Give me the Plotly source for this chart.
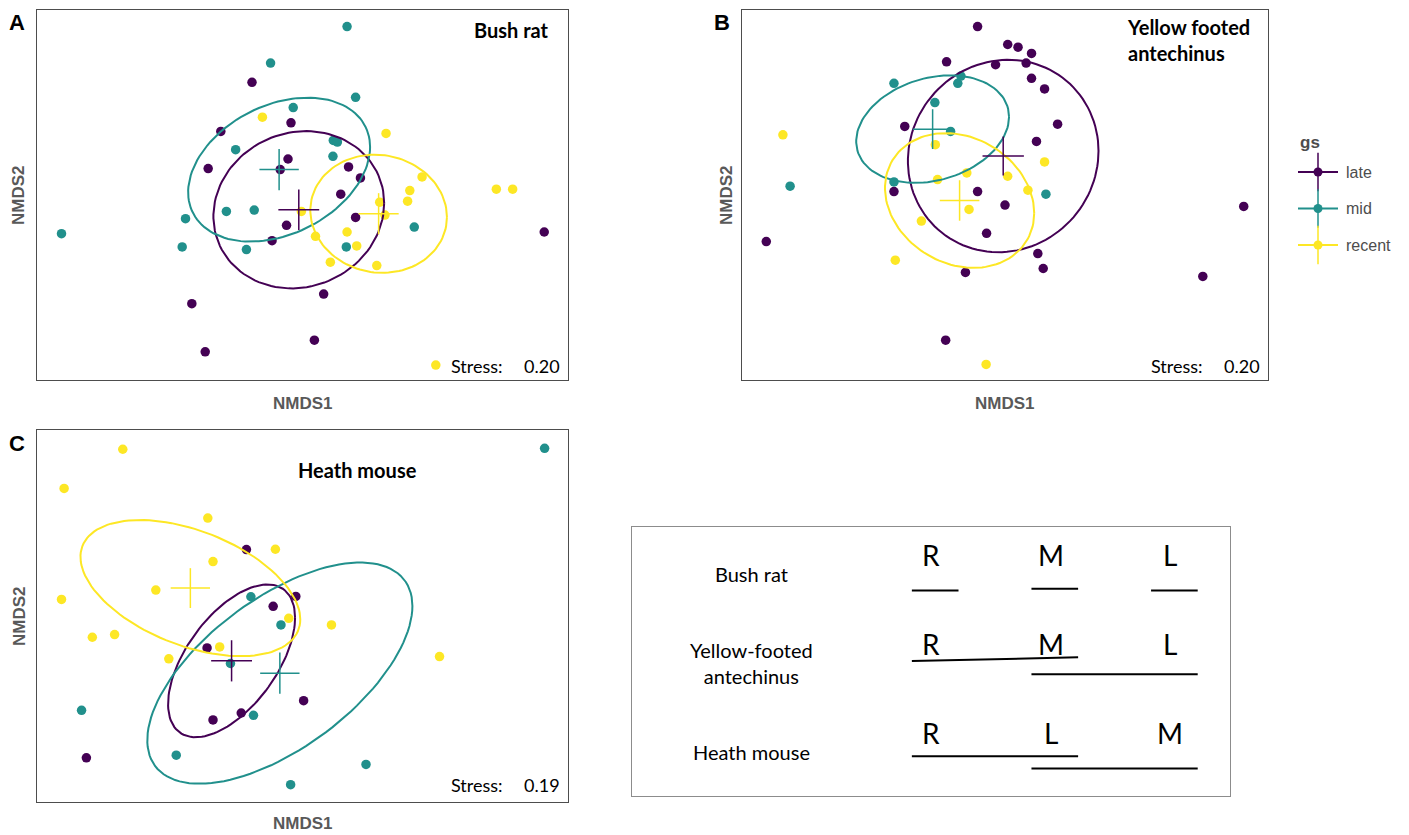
import numpy as np
import plotly.graph_objects as go

# ---------------------------------------------------------------
# NMDS site scores (NMDS1, NMDS2) per species and growth stage
# ---------------------------------------------------------------
groups = ["late", "mid", "recent"]
group_colors = ["#440154", "#21908C", "#FDE725"]

# Bush rat
rat_late_x = [-0.136, -0.031, -0.220, -0.254, -0.039, -0.060, 0.124, 0.156, 0.103, 0.143,
              -0.043, -0.082, 0.651, 0.057, -0.298, 0.032, -0.262]
rat_late_y = [0.375, 0.253, 0.227, 0.115, 0.144, 0.112, 0.120, 0.087, 0.038, -0.032,
              -0.056, -0.102, -0.076, -0.263, -0.292, -0.402, -0.437]
rat_mid_x = [0.120, -0.086, 0.143, -0.025, -0.180, 0.083, 0.094, 0.082, -0.205, -0.130,
             -0.315, -0.649, -0.324, -0.151, 0.118, 0.301]
rat_mid_y = [0.543, 0.433, 0.330, 0.299, 0.172, 0.200, 0.195, 0.152, -0.014, -0.010,
             -0.036, -0.081, -0.121, -0.129, -0.121, -0.061]
rat_recent_x = [-0.108, 0.225, 0.322, 0.289, 0.283, 0.208, 0.222, -0.003, 0.522, 0.566,
                0.120, 0.035, 0.146, 0.075, 0.200, 0.359]
rat_recent_y = [0.270, 0.221, 0.090, 0.049, 0.017, 0.014, -0.025, -0.014, 0.053, 0.053,
                -0.076, -0.089, -0.118, -0.167, -0.177, -0.477]

# Yellow footed antechinus
ant_late_x = [-0.061, 0.006, 0.029, 0.059, -0.130, -0.021, 0.047, 0.059, 0.088, 0.117,
              -0.223, 0.070, -0.247, -0.061, 0.000, -0.041, -0.531, 0.531, 0.073, 0.085,
              -0.088, 0.440, -0.132]
ant_late_y = [0.508, 0.454, 0.446, 0.427, 0.402, 0.393, 0.398, 0.352, 0.320, 0.214,
              0.207, 0.162, 0.011, 0.011, -0.030, -0.115, -0.140, -0.034, -0.176, -0.221,
              -0.233, -0.245, -0.437]
ant_mid_x = [-0.247, -0.105, -0.098, -0.156, -0.121, -0.247, -0.478, 0.091]
ant_mid_y = [0.337, 0.337, 0.359, 0.279, 0.192, 0.040, 0.027, 0.003]
ant_recent_x = [-0.494, -0.155, 0.088, -0.085, -0.150, 0.006, 0.051, -0.080, -0.186, -0.244, -0.042]
ant_recent_y = [0.182, 0.152, 0.100, 0.067, 0.047, 0.057, 0.015, -0.043, -0.078, -0.196, -0.510]

# Heath mouse
hm_late_x = [-0.151, -0.018, -0.079, -0.257, 0.003, -0.165, -0.241, -0.582]
hm_late_y = [0.200, 0.059, 0.029, -0.096, -0.255, -0.292, -0.313, -0.427]
hm_mid_x = [0.652, -0.139, -0.058, -0.194, -0.132, -0.595, -0.340, 0.171, -0.032]
hm_mid_y = [0.505, 0.058, -0.027, -0.143, -0.299, -0.284, -0.419, -0.447, -0.508]
hm_recent_x = [-0.484, -0.642, -0.255, -0.073, -0.241, -0.395, -0.649, -0.037, 0.078,
               -0.566, -0.506, -0.223, -0.360, 0.369]
hm_recent_y = [0.502, 0.384, 0.295, 0.201, 0.164, 0.078, 0.050, -0.007, -0.027,
               -0.064, -0.056, -0.093, -0.129, -0.122]

# Group centroids and their spread (late, mid, recent)
rat_cent_x = [-0.010, -0.063, 0.205]
rat_cent_y = [-0.009, 0.112, -0.021]
rat_err_x = [0.055, 0.053, 0.054]
rat_err_y = [0.061, 0.062, 0.062]
ant_cent_x = [-0.004, -0.161, -0.101]
ant_cent_y = [0.118, 0.199, -0.016]
ant_err_x = [0.046, 0.044, 0.044]
ant_err_y = [0.059, 0.060, 0.061]
hm_cent_x = [-0.191, -0.061, -0.302]
hm_cent_y = [-0.135, -0.172, 0.084]
hm_err_x = [0.055, 0.053, 0.053]
hm_err_y = [0.062, 0.062, 0.060]

# Dispersion ellipses: half-width, half-height, and NMDS2 offset at the widest point
rat_ell_w = [0.230, 0.245, 0.184]
rat_ell_h = [0.237, 0.217, 0.178]
rat_ell_r = [0.020, 0.068, -0.010]
ant_ell_w = [0.212, 0.170, 0.166]
ant_ell_h = [0.290, 0.162, 0.203]
ant_ell_r = [0.015, 0.037, -0.038]
hm_ell_w = [0.171, 0.357, 0.296]
hm_ell_h = [0.230, 0.333, 0.205]
hm_ell_r = [0.130, 0.202, -0.094]

stress_values = [0.20, 0.20, 0.19]

# Pairwise comparison summary (R = recent, M = mid, L = late)
species_names = ["Bush rat", "Yellow-footed<br>antechinus", "Heath mouse"]
stage_order = [["R", "M", "L"], ["R", "M", "L"], ["R", "L", "M"]]
subset_spans = [[(0, 0), (1, 1), (2, 2)], [(0, 1), (1, 2)], [(0, 1), (1, 2)]]

# ---------------------------------------------------------------
W, H = 1409, 835


def fx(p):
    return p / W


def fy(p):
    return 1 - p / H


def ellipse(cx, cy, w, h, r, n=120):
    t = np.linspace(0, 2 * np.pi, n)
    x = cx + w * np.cos(t)
    y = cy + r * np.cos(t) + np.sqrt(h * h - r * r) * np.sin(t)
    return x, y


panels = [
    dict(tag="A", suffix="", title="<b>Bush rat</b>",
         pts=[(rat_late_x, rat_late_y), (rat_mid_x, rat_mid_y), (rat_recent_x, rat_recent_y)],
         cx=rat_cent_x, cy=rat_cent_y, ex=rat_err_x, ey=rat_err_y,
         ew=rat_ell_w, eh=rat_ell_h, er=rat_ell_r, stress=stress_values[0],
         box=(37, 568, 10, 380), xr=[-0.715, 0.715], yr=[-0.522, 0.593],
         title_pos=(551, 30, "right"), ytitle_x=19, xtitle_y=403, stress_y=366),
    dict(tag="B", suffix="2", title="<b>Yellow footed<br>antechinus</b>",
         pts=[(ant_late_x, ant_late_y), (ant_mid_x, ant_mid_y), (ant_recent_x, ant_recent_y)],
         cx=ant_cent_x, cy=ant_cent_y, ex=ant_err_x, ey=ant_err_y,
         ew=ant_ell_w, eh=ant_ell_h, er=ant_ell_r, stress=stress_values[1],
         box=(742, 1268, 10, 380), xr=[-0.585, 0.585], yr=[-0.557, 0.558],
         title_pos=(1125, 40, "left"), ytitle_x=727, xtitle_y=403, stress_y=366),
    dict(tag="C", suffix="3", title="<b>Heath mouse</b>",
         pts=[(hm_late_x, hm_late_y), (hm_mid_x, hm_mid_y), (hm_recent_x, hm_recent_y)],
         cx=hm_cent_x, cy=hm_cent_y, ex=hm_err_x, ey=hm_err_y,
         ew=hm_ell_w, eh=hm_ell_h, er=hm_ell_r, stress=stress_values[2],
         box=(37, 568, 430, 802), xr=[-0.715, 0.715], yr=[-0.560, 0.560],
         title_pos=(357, 470, "center"), ytitle_x=19, xtitle_y=823, stress_y=785),
]

CAL = "Lato, 'Open Sans', sans-serif"
ARIAL = "'Liberation Sans', Arial, sans-serif"

fig = go.Figure()
annotations = []
layout_axes = {}

for p in panels:
    s = p["suffix"]
    xa, ya = "x" + s, "y" + s
    # site scores
    for g, (xs, ys) in enumerate(p["pts"]):
        fig.add_trace(go.Scatter(x=xs, y=ys, mode="markers", xaxis=xa, yaxis=ya,
                                 marker=dict(color=group_colors[g], size=9.5, line=dict(width=0)),
                                 showlegend=False, hoverinfo="skip"))
    # dispersion ellipses
    for g in range(len(groups)):
        ex_, ey_ = ellipse(p["cx"][g], p["cy"][g], p["ew"][g], p["eh"][g], p["er"][g])
        fig.add_trace(go.Scatter(x=ex_, y=ey_, mode="lines", xaxis=xa, yaxis=ya,
                                 line=dict(color=group_colors[g], width=2),
                                 showlegend=False, hoverinfo="skip"))
    # centroid crosses
    for g in range(len(groups)):
        cx, cy, dx, dy = p["cx"][g], p["cy"][g], p["ex"][g], p["ey"][g]
        fig.add_trace(go.Scatter(x=[cx - dx, cx + dx, None, cx, cx],
                                 y=[cy, cy, None, cy - dy, cy + dy],
                                 mode="lines", xaxis=xa, yaxis=ya,
                                 line=dict(color=group_colors[g], width=1.5),
                                 showlegend=False, hoverinfo="skip"))

    l, r, t, b = p["box"]
    axis_common = dict(showline=True, mirror=True, linecolor="#4d4d4d", linewidth=1,
                       showgrid=False, zeroline=False, showticklabels=False, ticks="",
                       fixedrange=True)
    layout_axes["xaxis" + s] = dict(domain=[fx(l), fx(r)], range=p["xr"], anchor=ya, **axis_common)
    layout_axes["yaxis" + s] = dict(domain=[fy(b), fy(t)], range=p["yr"], anchor=xa, **axis_common)

    # panel tag
    annotations.append(dict(text="<b>%s</b>" % p["tag"], x=fx(l - 20), y=fy(t + 13),
                            xref="paper", yref="paper", showarrow=False,
                            xanchor="center", yanchor="middle",
                            font=dict(family=ARIAL, size=22, color="black")))
    # species title
    tx, ty, tanchor = p["title_pos"]
    annotations.append(dict(text=p["title"], x=fx(tx), y=fy(ty), xref="paper", yref="paper",
                            showarrow=False, xanchor=tanchor, yanchor="middle", align="left",
                            font=dict(family=CAL, size=20, color="black")))
    # stress
    annotations.append(dict(text="Stress:", x=fx(r - 63), y=fy(p["stress_y"]),
                            xref="paper", yref="paper", showarrow=False,
                            xanchor="right", yanchor="middle",
                            font=dict(family=CAL, size=18, color="black")))
    annotations.append(dict(text="%.2f" % p["stress"], x=fx(r - 6), y=fy(p["stress_y"]),
                            xref="paper", yref="paper", showarrow=False,
                            xanchor="right", yanchor="middle",
                            font=dict(family=CAL, size=18, color="black")))
    # axis titles
    annotations.append(dict(text="<b>NMDS1</b>", x=fx((l + r) / 2), y=fy(p["xtitle_y"]),
                            xref="paper", yref="paper", showarrow=False,
                            xanchor="center", yanchor="middle",
                            font=dict(family=ARIAL, size=17, color="#595959")))
    annotations.append(dict(text="<b>NMDS2</b>", x=fx(p["ytitle_x"]), y=fy((t + b) / 2),
                            xref="paper", yref="paper", showarrow=False, textangle=-90,
                            xanchor="center", yanchor="middle",
                            font=dict(family=ARIAL, size=17, color="#595959")))

# ---------------------------------------------------------------
# Legend for growth stage (point + centroid cross key)
# ---------------------------------------------------------------
for g, name in enumerate(groups):
    col = group_colors[g]
    fig.add_trace(go.Scatter(x=[28, 28], y=[g - 0.53, g + 0.53], mode="lines",
                             xaxis="x5", yaxis="y5", line=dict(color=col, width=1.5),
                             showlegend=False, hoverinfo="skip"))
    fig.add_trace(go.Scatter(x=[8, 48], y=[g, g], mode="lines",
                             xaxis="x5", yaxis="y5", line=dict(color=col, width=2),
                             showlegend=False, hoverinfo="skip"))
    fig.add_trace(go.Scatter(x=[28], y=[g], mode="markers", xaxis="x5", yaxis="y5",
                             marker=dict(color=col, size=9), showlegend=False, hoverinfo="skip"))
    annotations.append(dict(text=name, x=54, y=g, xref="x5", yref="y5", showarrow=False,
                            xanchor="left", yanchor="middle",
                            font=dict(family=ARIAL, size=16, color="#4d4d4d")))
annotations.append(dict(text="<b>gs</b>", x=20, y=-0.82, xref="x5", yref="y5", showarrow=False,
                        xanchor="center", yanchor="middle",
                        font=dict(family=ARIAL, size=17, color="#4d4d4d")))
hidden = dict(visible=False, fixedrange=True)
layout_axes["xaxis5"] = dict(domain=[fx(1290), fx(1400)], range=[0, 110], anchor="y5", **hidden)
layout_axes["yaxis5"] = dict(domain=[fy(270), fy(140)], range=[2.685, -0.877], anchor="x5", **hidden)

# ---------------------------------------------------------------
# Summary of homogeneous stage groupings
# ---------------------------------------------------------------
span_drops = [[(0.40, 0.40), (0.38, 0.38), (0.40, 0.40)],
              [(0.19, 0.15), (0.34, 0.34)],
              [(0.26, 0.26), (0.40, 0.40)]]
for row, name in enumerate(species_names):
    annotations.append(dict(text=name, x=-1.5, y=row + 0.21, xref="x4", yref="y4",
                            showarrow=False, xanchor="center", yanchor="middle",
                            font=dict(family=CAL, size=20, color="black")))
    for col, letter in enumerate(stage_order[row]):
        annotations.append(dict(text=letter, x=col, y=row, xref="x4", yref="y4",
                                showarrow=False, xanchor="center", yanchor="middle",
                                font=dict(family=CAL, size=28, color="black")))
    for (c0, c1), (d0, d1) in zip(subset_spans[row], span_drops[row]):
        fig.add_trace(go.Scatter(x=[c0 - 0.16, c1 + 0.23], y=[row + d0, row + d1],
                                 mode="lines", xaxis="x4", yaxis="y4",
                                 line=dict(color="black", width=2),
                                 showlegend=False, hoverinfo="skip"))
table_axis = dict(showline=True, mirror=True, linecolor="#8c8c8c", linewidth=1,
                  showgrid=False, zeroline=False, showticklabels=False, ticks="",
                  fixedrange=True)
layout_axes["xaxis4"] = dict(domain=[fx(632), fx(1230)], range=[-2.5, 2.5], anchor="y4", **table_axis)
layout_axes["yaxis4"] = dict(domain=[fy(796), fy(527)], range=[2.708, -0.315], anchor="x4", **table_axis)

fig.update_layout(
    width=W, height=H, autosize=False,
    margin=dict(l=0, r=0, t=0, b=0),
    paper_bgcolor="white", plot_bgcolor="white",
    showlegend=False,
    annotations=annotations,
    **layout_axes,
)

fig.write_html("out.html", config={"displayModeBar": False})
